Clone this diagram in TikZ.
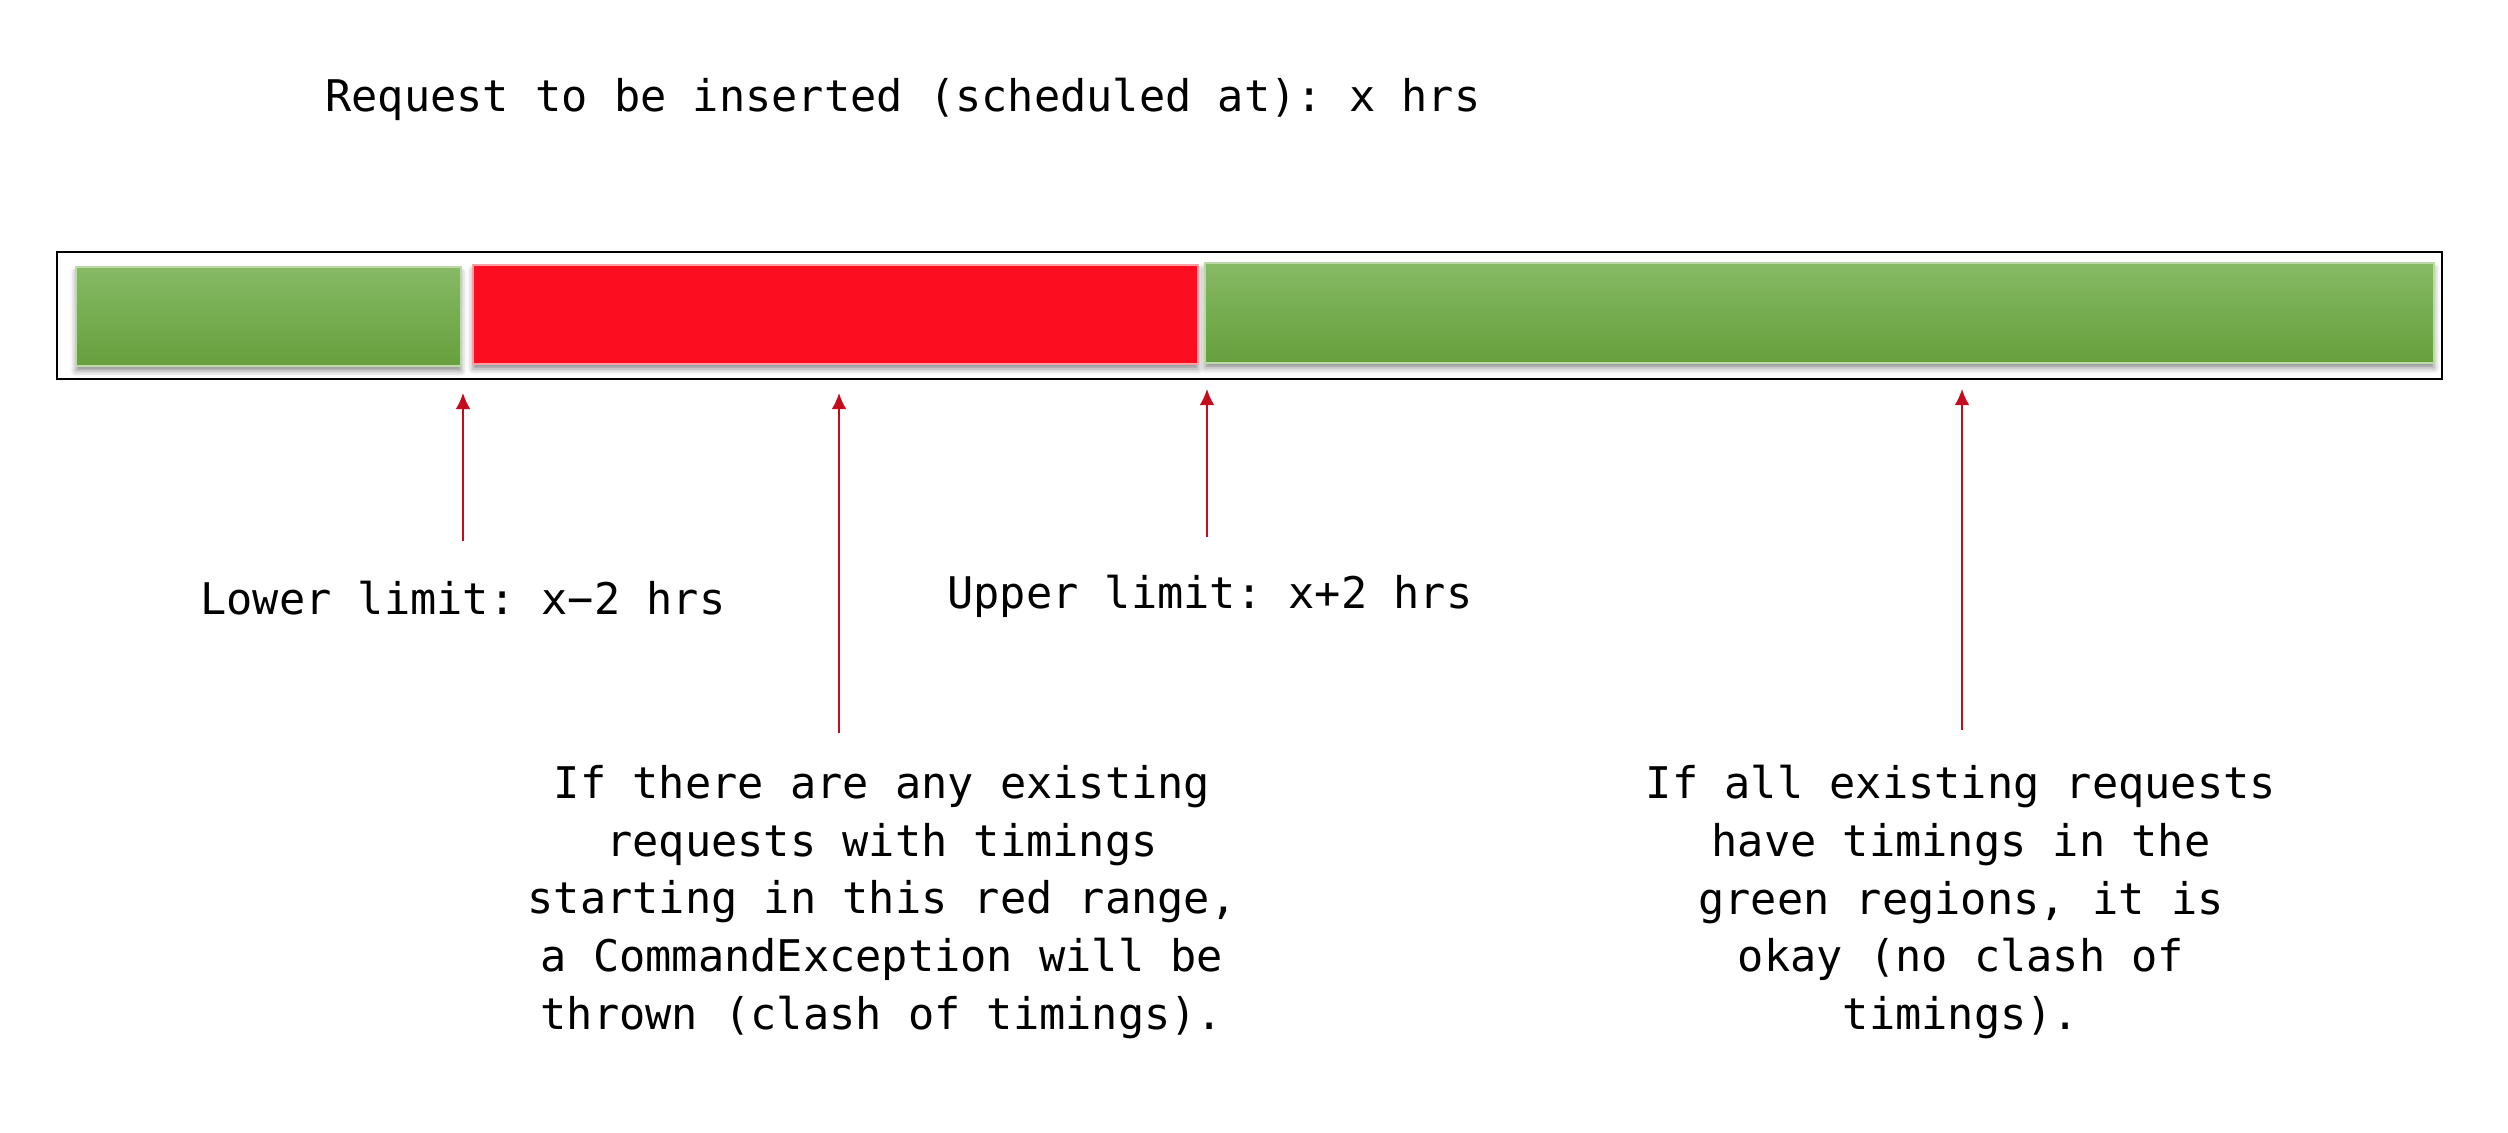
\documentclass[tikz,border=0pt]{standalone}
\usepackage{fontspec}
\setmonofont{DejaVu Sans Mono}
\usetikzlibrary{arrows.meta,shadows.blur}

\definecolor{slotgreentop}{RGB}{134,186,101}
\definecolor{slotgreenmid}{RGB}{116,176,76}
\definecolor{slotgreenbot}{RGB}{102,159,60}
\definecolor{slotred}{RGB}{252,13,31}
\definecolor{tipred}{RGB}{196,12,28}

\begin{document}
\begin{tikzpicture}[
    x=0.01cm, y=-0.01cm,
    label/.style={font=\ttfamily\fontsize{12.4pt}{16.4pt}\selectfont, inner sep=0pt, align=center},
    slot/.style={blur shadow={shadow xshift=0pt, shadow yshift=-1.4pt, shadow blur radius=1.6pt, shadow opacity=45}},
    free/.style={slot, top color=slotgreentop, middle color=slotgreenmid, bottom color=slotgreenbot, draw=slotgreentop!55!white, line width=0.6pt},
    clash/.style={slot, fill=slotred, draw=slotred!40!white, line width=0.6pt},
    arrow/.style={-{Latex[length=4.6pt, width=4.2pt]}, draw=tipred, line width=0.45pt}
]
\useasboundingbox (0,0) rectangle (2508,1132);

\node[label] (title) at (903,99) {Request to be inserted (scheduled at): x hrs};

% time line
\draw[line width=0.6pt] (57,252) rectangle (2442,379);
\path[free] (76,267) rectangle (461,366);
\path[clash] (473,265) rectangle (1198,364);
\path[free] (1205,263) rectangle (2434,363);

\coordinate (lowtip) at (463,393);
\coordinate (lowtail) at (463,541);
\coordinate (clashtip) at (839,393);
\coordinate (clashtail) at (839,733);
\coordinate (hightip) at (1207,389);
\coordinate (hightail) at (1207,537);
\coordinate (freetip) at (1962,389);
\coordinate (freetail) at (1962,730);

\draw[arrow] (lowtail) -- (lowtip);
\draw[arrow] (clashtail) -- (clashtip);
\draw[arrow] (hightail) -- (hightip);
\draw[arrow] (freetail) -- (freetip);

\node[label] (low) at (463,598) {Lower limit: x\textminus2 hrs};
\node[label] (high) at (1210,596) {Upper limit: x+2 hrs};
\node[label] (clashnote) at (882,902) {If there are any existing\\requests with timings\\starting in this red range,\\a CommandException will be\\thrown (clash of timings).};
\node[label] (freenote) at (1961,902) {If all existing requests\\have timings in the\\green regions, it is\\okay (no clash of\\timings).};

\end{tikzpicture}
\end{document}
